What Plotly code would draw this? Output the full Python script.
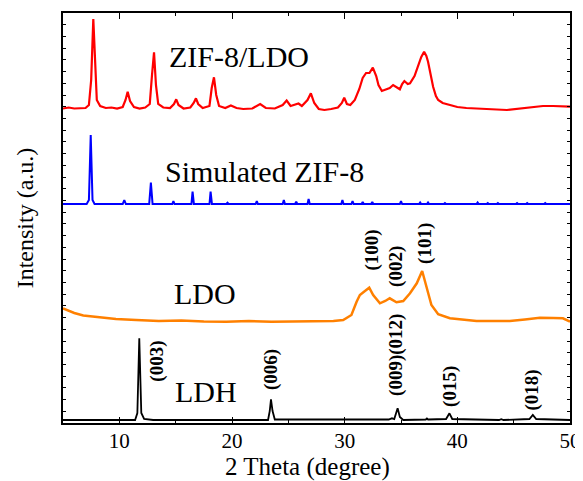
import plotly.graph_objects as go

# ---------------- data ----------------
# ZIF-8/LDO (red), stacked intensity (a.u.)
zif_ldo_2theta = [5.0, 5.5, 6.0, 6.5, 7.0, 7.3, 7.5, 7.69, 7.85, 8.0, 8.3, 8.8, 9.3, 9.8, 10.3,
                  10.55, 10.74, 10.95, 11.3, 11.8, 12.3, 12.7, 12.9, 13.08, 13.25, 13.45, 13.9,
                  14.5, 14.85, 15.05, 15.25, 15.7, 16.3, 16.6, 16.8, 17.0, 17.4, 18.0, 18.2, 18.4,
                  18.6, 18.85, 19.4, 19.9, 20.4, 21.0, 21.8, 22.5, 23.0, 23.8, 24.5, 24.85, 25.2,
                  25.6, 25.9, 26.2, 26.7, 27.0, 27.3, 27.7, 28.2, 28.8, 29.4, 29.75, 29.96, 30.2,
                  30.5, 30.9, 31.3, 31.6, 31.9, 32.2, 32.5, 32.8, 33.0, 33.3, 33.7, 34.0, 34.3,
                  34.6, 34.9, 35.1, 35.3, 35.6, 35.8, 36.2, 36.5, 36.8, 37.05, 37.25, 37.4, 37.6,
                  37.85, 38.1, 38.3, 38.7, 39.3, 40.0, 40.8, 41.7, 42.5, 43.5, 44.4, 45.2, 46.0,
                  46.8, 47.6, 48.5, 49.3, 50.0]
zif_ldo_int = [314.5, 315.5, 314.5, 315.0, 315.0, 318.0, 343.0, 404.0, 353.0, 323.0, 317.0, 315.0,
               315.5, 314.5, 316.0, 323.0, 331.3, 322.0, 316.0, 314.5, 315.5, 319.0, 348.0, 370.7,
               338.0, 319.0, 315.5, 315.0, 319.0, 323.7, 318.0, 314.5, 315.5, 320.0, 324.7, 319.0,
               315.0, 317.0, 335.0, 345.7, 328.0, 317.0, 315.0, 317.5, 315.0, 314.0, 314.5, 319.0,
               315.0, 314.5, 318.0, 322.5, 317.0, 318.0, 319.5, 317.0, 323.0, 329.7, 320.0, 314.0,
               313.0, 314.0, 315.5, 320.0, 325.3, 319.0, 318.0, 323.0, 334.0, 345.0, 350.0, 350.0,
               355.3, 347.0, 338.0, 332.0, 334.0, 335.0, 338.0, 336.0, 333.7, 339.0, 342.0, 339.0,
               339.7, 347.0, 356.3, 366.0, 371.3, 367.0, 361.3, 349.0, 336.3, 327.0, 323.0, 320.0,
               318.0, 316.0, 315.0, 314.7, 314.0, 313.5, 313.0, 314.0, 315.0, 316.0, 317.0, 317.0,
               316.5, 316.3]

# Simulated ZIF-8 (blue)
sim_2theta = [5.0, 7.1, 7.3, 7.46, 7.62, 7.8, 10.3, 10.44, 10.58, 12.65, 12.8, 12.95, 14.7, 14.8,
              14.9, 16.4, 16.5, 16.62, 18.0, 18.1, 18.22, 19.5, 19.6, 19.7, 22.1, 22.2, 22.3, 24.5,
              24.6, 24.7, 25.6, 25.7, 25.8, 26.7, 26.8, 26.9, 29.7, 29.8, 29.9, 30.6, 30.7, 30.8,
              31.5, 31.6, 31.7, 32.35, 32.45, 32.55, 34.9, 35.0, 35.1, 36.6, 36.7, 36.8, 37.3,
              37.4, 37.5, 38.8, 38.9, 39.0, 41.7, 41.8, 41.9, 42.6, 42.7, 42.8, 43.5, 43.6, 43.7,
              45.2, 45.3, 45.4, 46.1, 46.2, 46.3, 47.7, 47.8, 47.9, 50.0]
sim_int = [219.0, 219.0, 223.0, 288.0, 223.0, 219.0, 219.0, 223.0, 219.0, 219.0, 240.3, 219.0,
           219.0, 222.0, 219.0, 219.0, 231.3, 219.0, 219.0, 231.3, 219.0, 219.0, 220.3, 219.0,
           219.0, 222.0, 219.0, 219.0, 223.0, 219.0, 219.0, 221.3, 219.0, 219.0, 224.0, 219.0,
           219.0, 223.0, 219.0, 219.0, 222.0, 219.0, 219.0, 221.0, 219.0, 219.0, 221.0, 219.0,
           219.0, 222.0, 219.0, 219.0, 220.5, 219.0, 219.0, 220.5, 219.0, 219.0, 220.0, 219.0,
           219.0, 220.5, 219.0, 219.0, 220.0, 219.0, 219.0, 220.0, 219.0, 219.0, 220.0, 219.0,
           219.0, 220.0, 219.0, 219.0, 220.0, 219.0, 219.0]

# LDO (orange)
ldo_2theta = [5.0, 5.5, 6.0, 6.8, 7.7, 8.5, 9.7, 11.5, 13.5, 15.5, 17.5, 19.5, 21.5, 23.5, 25.5,
              27.5, 29.0, 29.87, 30.6, 31.06, 31.35, 31.8, 32.18, 32.53, 33.13, 33.6, 34.0, 34.6,
              35.2, 35.8, 36.4, 36.88, 37.27, 37.7, 38.3, 39.34, 41.7, 44.66, 46.0, 47.33, 48.5,
              49.37, 50.0]
ldo_int = [114.7, 112.0, 110.0, 107.5, 106.3, 105.0, 104.0, 103.0, 102.0, 102.5, 101.5, 101.3,
           102.0, 101.3, 101.5, 101.3, 102.0, 103.0, 108.0, 121.3, 128.0, 132.0, 135.3, 128.0,
           119.7, 122.0, 124.7, 120.7, 122.0, 129.7, 139.7, 152.0, 136.3, 118.0, 108.7, 104.7,
           102.0, 102.0, 103.5, 105.3, 105.0, 104.7, 101.3]

# LDH (black)
ldh_2theta = [5.0, 11.4, 11.6, 11.77, 11.95, 12.2, 13.0, 23.2, 23.35, 23.46, 23.6, 23.8, 33.9,
              34.2, 34.4, 34.55, 34.7, 34.9, 35.2, 37.2, 37.3, 37.4, 39.0, 39.3, 39.55, 43.7,
              43.9, 44.1, 46.4, 46.7, 47.0, 50.0]
ldh_int = [3.0, 3.0, 10.0, 84.7, 10.0, 4.0, 3.0, 3.0, 12.0, 23.7, 12.0, 3.5, 3.5, 4.7, 4.0, 9.0,
           14.7, 6.0, 3.0, 3.5, 4.5, 3.5, 4.0, 9.7, 4.0, 3.0, 3.8, 3.0, 4.0, 8.0, 4.0, 3.0]

# sample labels
sample_names = ["ZIF-8/LDO", "Simulated ZIF-8", "LDO", "LDH"]
sample_x = [14.2, 13.9, 14.65, 14.8]
sample_y = [366.3, 251.5, 129.7, 32.0]

# reflection labels
hkl_text = ["(003)", "(006)", "(100)", "(002)", "(101)", "(009)(012)", "(015)", "(018)"]
hkl_x = [13.31, 23.46, 32.39, 34.55, 37.12, 34.55, 39.34, 46.59]
hkl_y = [62.0, 54.0, 173.0, 157.0, 180.0, 68.0, 37.0, 33.0]

x_ticks = [10, 20, 30, 40, 50]
x_title = "2 Theta (degree)"
y_title = "Intensity (a.u.)"

# ---------------- figure ----------------
SERIF = "Times New Roman, Liberation Serif, serif"

fig = go.Figure()
fig.add_trace(go.Scatter(x=zif_ldo_2theta, y=zif_ldo_int, mode="lines",
                         line=dict(color="#FF0000", width=2.2), name="ZIF-8/LDO"))
fig.add_trace(go.Scatter(x=sim_2theta, y=sim_int, mode="lines",
                         line=dict(color="#0000FF", width=2), name="Simulated ZIF-8"))
fig.add_trace(go.Scatter(x=ldo_2theta, y=ldo_int, mode="lines",
                         line=dict(color="#FF8000", width=2.5), name="LDO"))
fig.add_trace(go.Scatter(x=ldh_2theta, y=ldh_int, mode="lines",
                         line=dict(color="#000000", width=1.8), name="LDH"))

for t, x, y in zip(sample_names, sample_x, sample_y):
    fig.add_annotation(x=x, y=y, text=t, showarrow=False, xanchor="left", yanchor="middle",
                       font=dict(family=SERIF, size=30, color="black"))

for t, x, y in zip(hkl_text, hkl_x, hkl_y):
    fig.add_annotation(x=x, y=y, text="<b>" + t + "</b>", showarrow=False, textangle=-90,
                       xanchor="center", yanchor="middle",
                       font=dict(family=SERIF, size=19, color="black"))

# x-axis title placed just below the tick labels
fig.add_annotation(xref="paper", yref="paper", x=0.482, y=-0.108, text=x_title,
                   showarrow=False, xanchor="center", yanchor="middle",
                   font=dict(family=SERIF, size=25, color="black"))

# page body adds ~8px offset, so the figure is sized to fit the window
fig.update_layout(
    width=575, height=473,
    margin=dict(l=55, r=13, t=5, b=58, autoexpand=False),
    paper_bgcolor="white", plot_bgcolor="white",
    showlegend=False,
    font=dict(family=SERIF, color="black"),
)
fig.update_xaxes(
    range=[5, 50], tickvals=x_ticks, ticks="inside", ticklen=6, tickwidth=1,
    tickcolor="black", showline=True, linecolor="black", linewidth=1.5, mirror="allticks",
    showgrid=False, zeroline=False, automargin=False, ticklabelstandoff=-2,
    tickfont=dict(family=SERIF, size=21, color="black"),
    minor=dict(dtick=5, tick0=5, ticks="inside", ticklen=3, tickcolor="black"),
)
fig.update_yaxes(
    range=[0, 410], tick0=0, dtick=410 / 35, ticks="inside", ticklen=3, tickwidth=1,
    tickcolor="black", showticklabels=False, showline=True, linecolor="black", linewidth=1.5,
    mirror="allticks", showgrid=False, zeroline=False, automargin=False,
    title=dict(text=y_title, font=dict(family=SERIF, size=24, color="black"), standoff=21),
)

fig.write_html("out.html")
